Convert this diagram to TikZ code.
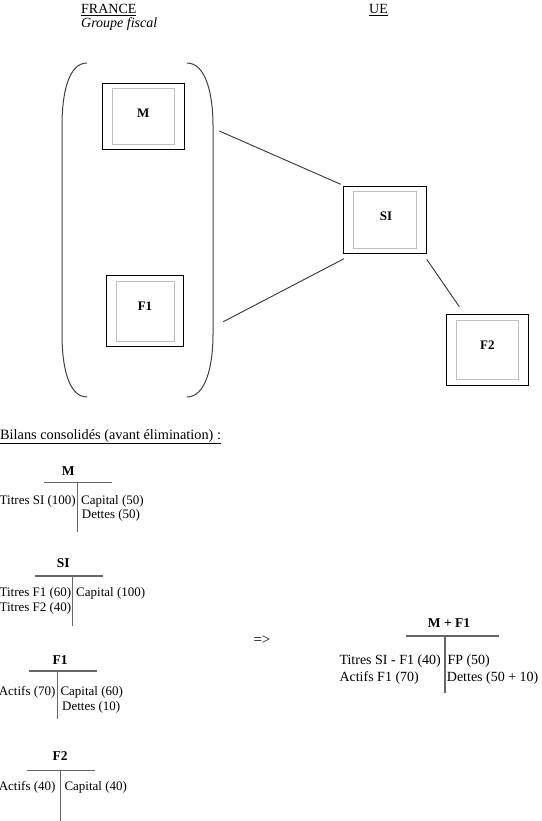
\documentclass[tikz,border=0pt]{standalone}
\usepackage{fontspec}
\setmainfont{Liberation Serif}
\begin{document}
\begin{tikzpicture}[x=1pt,y=-1pt,
  txt/.style={inner sep=0pt, font=\fontsize{13}{15}\selectfont},
  bigtxt/.style={inner sep=0pt, font=\fontsize{14}{16}\selectfont},
  ttl/.style={inner sep=0pt, anchor=base, font=\fontsize{13.5}{16}\selectfont\bfseries},
  outerbox/.style={draw=black, line width=1pt, inner sep=0pt},
  innerbox/.style={draw=black!25, line width=1pt, inner sep=0pt},
  blab/.style={inner sep=0pt, font=\fontsize{13}{15}\selectfont\bfseries},
  link/.style={draw=black!80, line width=0.9pt},
  brack/.style={draw=black!75, line width=1pt},
  tline/.style={draw=black!60, line width=1.3pt}]
\useasboundingbox (0,0) rectangle (541,821);

% headers
\node[bigtxt, anchor=base west] (fr) at (81,14) {\underline{FRANCE}};
\node[bigtxt, anchor=base west] (gf) at (81,28) {\itshape Groupe fiscal};
\node[bigtxt, anchor=base west] (ue) at (369,14) {\underline{UE}};

% brackets
\draw[brack] (87,63) .. controls (68,63) and (62,95) .. (62,125) -- (62,335)
  .. controls (62,365) and (68,397) .. (87,397);
\draw[brack] (187,63) .. controls (206,63) and (213,95) .. (213,125) -- (213,335)
  .. controls (213,365) and (206,397) .. (187,397);

% entity boxes
\node[outerbox, minimum width=82pt, minimum height=66pt] (M) at (143.3,116.3) {};
\node[innerbox, minimum width=62pt, minimum height=56pt] (Min) at (143.3,116.3) {};
\node[blab] (Ml) at (143.3,113.3) {M};

\node[outerbox, minimum width=77pt, minimum height=70.7pt] (F1) at (144.8,310.7) {};
\node[innerbox, minimum width=58pt, minimum height=60pt] (F1in) at (145.3,311) {};
\node[blab] (F1l) at (145,306) {F1};

\node[outerbox, minimum width=82.7pt, minimum height=66.7pt] (SI) at (385.3,220) {};
\node[innerbox, minimum width=62.7pt, minimum height=57.3pt] (SIin) at (385.3,219.7) {};
\node[blab] (SIl) at (386,216.7) {SI};

\node[outerbox, minimum width=82pt, minimum height=70.7pt] (F2) at (487.3,350.3) {};
\node[innerbox, minimum width=62pt, minimum height=59pt] (F2in) at (487.3,349.5) {};
\node[blab] (F2l) at (487.3,345) {F2};

% connectors
\coordinate (a1) at (219.3,131);
\coordinate (b1) at (340.7,184.3);
\coordinate (a2) at (223.3,321.7);
\coordinate (b2) at (344,258.7);
\coordinate (a3) at (426.7,259.3);
\coordinate (b3) at (459.3,306.7);
\draw[link] (a1) -- (b1);
\draw[link] (a2) -- (b2);
\draw[link] (a3) -- (b3);

% title
\node[inner sep=0pt, font=\fontsize{14.3}{16}\selectfont, anchor=base west] (bil) at (0,439) {\underline{Bilans consolidés (avant élimination) :}};

% T account M
\node[ttl] (tM) at (68.3,475) {M};
\coordinate (hM1) at (44.3,482.7); \coordinate (hM2) at (112.3,482.7);
\coordinate (vM1) at (77.7,482.7); \coordinate (vM2) at (77.7,531.7);
\draw[tline] (hM1) -- (hM2);
\draw[tline] (vM1) -- (vM2);
\node[txt, anchor=base east] (mL1) at (76,504) {Titres SI (100)};
\node[txt, anchor=base west] (mR1) at (81,504) {Capital (50)};
\node[txt, anchor=base west] (mR2) at (81.7,518.5) {Dettes (50)};

% T account SI
\node[ttl] (tSI) at (63.3,567.7) {SI};
\coordinate (hS1) at (35,576); \coordinate (hS2) at (102.7,576);
\coordinate (vS1) at (72.3,576); \coordinate (vS2) at (72.3,626);
\draw[tline] (hS1) -- (hS2);
\draw[tline] (vS1) -- (vS2);
\node[txt, anchor=base east] (sL1) at (71.5,596.7) {Titres F1 (60)};
\node[txt, anchor=base east] (sL2) at (71.5,611.7) {Titres F2 (40)};
\node[txt, anchor=base west] (sR1) at (76,596.7) {Capital (100)};

% T account F1
\node[ttl] (tF1) at (60,664) {F1};
\coordinate (hF1) at (29.3,671); \coordinate (hF2) at (96.7,671);
\coordinate (vF1) at (57.7,671); \coordinate (vF2) at (57.7,719.3);
\draw[tline] (hF1) -- (hF2);
\draw[tline] (vF1) -- (vF2);
\node[txt, anchor=base east] (fL1) at (55.7,695) {Actifs (70)};
\node[txt, anchor=base west] (fR1) at (60.3,695) {Capital (60)};
\node[txt, anchor=base west] (fR2) at (62,710.7) {Dettes (10)};

% T account F2
\node[ttl] (tF2) at (60,760.7) {F2};
\coordinate (hG1) at (27.3,770.7); \coordinate (hG2) at (95,770.7);
\coordinate (vG1) at (60.3,770.7); \coordinate (vG2) at (60.3,821);
\draw[tline] (hG1) -- (hG2);
\draw[tline] (vG1) -- (vG2);
\node[txt, anchor=base east] (gL1) at (55.7,790.7) {Actifs (40)};
\node[txt, anchor=base west] (gR1) at (64.3,790.7) {Capital (40)};

% arrow text
\node[inner sep=0pt, font=\fontsize{15}{17}\selectfont, anchor=base west] (arr) at (253.3,644.5) {=>};

% T account M + F1
\node[ttl] (tMF) at (449,627.7) {M + F1};
\coordinate (hH1) at (406,636); \coordinate (hH2) at (498.7,636);
\coordinate (vH1) at (445,636); \coordinate (vH2) at (445,693.3);
\draw[tline] (hH1) -- (hH2);
\draw[tline] (vH1) -- (vH2);
\node[bigtxt, anchor=base west] (hL1) at (339.3,664) {Titres SI - F1 (40)};
\node[bigtxt, anchor=base west] (hL2) at (339.3,681) {Actifs F1 (70)};
\node[bigtxt, anchor=base west] (hR1) at (447.3,664) {FP (50)};
\node[bigtxt, anchor=base west] (hR2) at (446.7,681) {Dettes (50 + 10)};
\end{tikzpicture}
\end{document}
